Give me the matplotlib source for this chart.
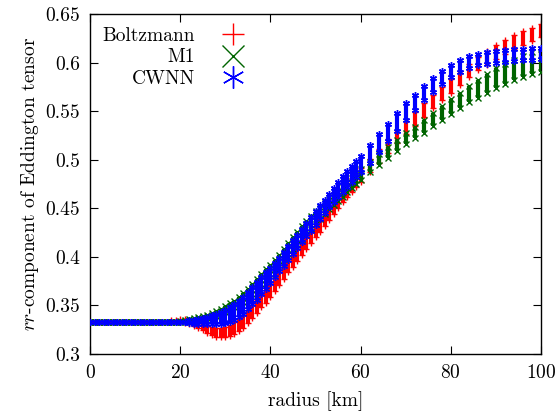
import matplotlib
matplotlib.use("Agg")
import matplotlib.pyplot as plt

plt.rcParams['font.family'] = 'cmr10'
plt.rcParams['mathtext.fontset'] = 'cm'
plt.rcParams['axes.formatter.use_mathtext'] = True

# radius grid [km], shared by all three runs
radius = [0, 1, 2, 3, 4, 5, 6, 7, 8, 9, 10, 11, 12, 13, 14, 15, 16, 17, 18, 19,
          20, 21, 22, 23, 24, 25, 26, 27, 28, 29, 30, 31, 32, 33, 34, 35, 36, 37, 38, 39,
          40, 41, 42, 43, 44, 45, 46, 47, 48, 49, 50, 51, 52, 53, 54, 55, 56, 57, 58, 59,
          60, 62, 64, 66, 68, 70, 72, 74, 76, 78, 80, 82, 84, 86, 88, 90, 92, 94, 96, 98, 100]

# Boltzmann: lower / upper edge of the spread at each radius
boltz_lo = [0.3333, 0.3333, 0.3333, 0.3333, 0.3333, 0.3333, 0.3333, 0.3333, 0.3333, 0.3333,
            0.3333, 0.3333, 0.3333, 0.3333, 0.3333, 0.3333, 0.3333, 0.3333, 0.3333, 0.3333,
            0.333, 0.332, 0.331, 0.329, 0.327, 0.325, 0.322, 0.320, 0.318, 0.317,
            0.318, 0.319, 0.321, 0.324, 0.327, 0.332, 0.337, 0.342, 0.348, 0.353,
            0.359, 0.365, 0.371, 0.377, 0.384, 0.390, 0.396, 0.402, 0.408, 0.414,
            0.420, 0.426, 0.432, 0.438, 0.444, 0.450, 0.456, 0.462, 0.467, 0.472,
            0.477, 0.487, 0.497, 0.507, 0.517, 0.526, 0.535, 0.544, 0.553, 0.561,
            0.569, 0.577, 0.585, 0.592, 0.598, 0.604, 0.609, 0.614, 0.618, 0.622, 0.626]
boltz_hi = [0.3333, 0.3333, 0.3333, 0.3333, 0.3333, 0.3333, 0.3333, 0.3333, 0.3333, 0.3333,
            0.3333, 0.3333, 0.3333, 0.3333, 0.3333, 0.3333, 0.3333, 0.3333, 0.3345, 0.3355,
            0.336, 0.336, 0.335, 0.334, 0.333, 0.332, 0.330, 0.328, 0.327, 0.327,
            0.328, 0.330, 0.333, 0.336, 0.340, 0.345, 0.350, 0.356, 0.362, 0.368,
            0.374, 0.380, 0.386, 0.392, 0.398, 0.404, 0.410, 0.416, 0.422, 0.428,
            0.434, 0.440, 0.446, 0.452, 0.458, 0.464, 0.470, 0.476, 0.481, 0.486,
            0.491, 0.501, 0.511, 0.521, 0.531, 0.540, 0.549, 0.558, 0.567, 0.575,
            0.583, 0.591, 0.599, 0.606, 0.612, 0.618, 0.623, 0.628, 0.632, 0.636, 0.640]

# M1 closure
m1_lo = [0.3333, 0.3333, 0.3333, 0.3333, 0.3333, 0.3333, 0.3333, 0.3333, 0.3333, 0.3333,
         0.3333, 0.3333, 0.3333, 0.3333, 0.3333, 0.3333, 0.3333, 0.3333, 0.3333, 0.3333,
         0.3333, 0.333, 0.334, 0.334, 0.335, 0.336, 0.337, 0.338, 0.339, 0.341,
         0.343, 0.345, 0.348, 0.351, 0.354, 0.358, 0.362, 0.367, 0.372, 0.377,
         0.382, 0.387, 0.392, 0.398, 0.403, 0.408, 0.413, 0.418, 0.423, 0.429,
         0.434, 0.439, 0.444, 0.449, 0.453, 0.458, 0.462, 0.467, 0.471, 0.475,
         0.479, 0.487, 0.495, 0.502, 0.509, 0.516, 0.522, 0.528, 0.535, 0.541,
         0.547, 0.553, 0.559, 0.564, 0.569, 0.574, 0.578, 0.582, 0.585, 0.588, 0.590]
m1_hi = [0.3333, 0.3333, 0.3333, 0.3333, 0.3333, 0.3333, 0.3333, 0.3333, 0.3333, 0.3333,
         0.3333, 0.3333, 0.3333, 0.3333, 0.3333, 0.3333, 0.3333, 0.3333, 0.3333, 0.3333,
         0.334, 0.335, 0.336, 0.337, 0.338, 0.339, 0.340, 0.342, 0.344, 0.346,
         0.349, 0.352, 0.355, 0.359, 0.363, 0.367, 0.372, 0.377, 0.382, 0.387,
         0.392, 0.397, 0.402, 0.408, 0.414, 0.420, 0.426, 0.432, 0.437, 0.442,
         0.447, 0.451, 0.455, 0.459, 0.463, 0.468, 0.472, 0.477, 0.481, 0.486,
         0.490, 0.498, 0.506, 0.513, 0.520, 0.527, 0.534, 0.541, 0.548, 0.555,
         0.562, 0.569, 0.576, 0.582, 0.588, 0.594, 0.599, 0.603, 0.607, 0.611, 0.614]

# CWNN closure
cwnn_lo = [0.3333, 0.3333, 0.3333, 0.3333, 0.3333, 0.3333, 0.3333, 0.3333, 0.3333, 0.3333,
           0.3333, 0.3333, 0.3333, 0.3333, 0.3333, 0.3333, 0.3333, 0.3333, 0.3333, 0.3333,
           0.3333, 0.3333, 0.332, 0.331, 0.331, 0.331, 0.331, 0.331, 0.331, 0.331,
           0.332, 0.333, 0.335, 0.338, 0.341, 0.346, 0.351, 0.356, 0.362, 0.367,
           0.373, 0.379, 0.385, 0.391, 0.397, 0.403, 0.409, 0.415, 0.421, 0.427,
           0.433, 0.439, 0.445, 0.451, 0.456, 0.462, 0.467, 0.472, 0.477, 0.482,
           0.487, 0.497, 0.508, 0.519, 0.530, 0.541, 0.551, 0.561, 0.570, 0.578,
           0.585, 0.590, 0.594, 0.597, 0.599, 0.600, 0.601, 0.602, 0.603, 0.603, 0.604]
cwnn_hi = [0.3333, 0.3333, 0.3333, 0.3333, 0.3333, 0.3333, 0.3333, 0.3333, 0.3333, 0.3333,
           0.3333, 0.3333, 0.3333, 0.3333, 0.3333, 0.3333, 0.3333, 0.3333, 0.3333, 0.3333,
           0.3333, 0.3333, 0.335, 0.335, 0.336, 0.337, 0.338, 0.340, 0.341, 0.343,
           0.345, 0.348, 0.351, 0.355, 0.359, 0.364, 0.369, 0.374, 0.379, 0.384,
           0.389, 0.394, 0.399, 0.405, 0.411, 0.417, 0.423, 0.429, 0.435, 0.441,
           0.447, 0.453, 0.459, 0.465, 0.471, 0.477, 0.483, 0.488, 0.494, 0.499,
           0.504, 0.515, 0.526, 0.537, 0.548, 0.558, 0.567, 0.576, 0.584, 0.591,
           0.598, 0.603, 0.607, 0.609, 0.611, 0.612, 0.613, 0.614, 0.614, 0.615, 0.615]

series = [
    ("Boltzmann", boltz_lo, boltz_hi, "#ff0000", "+"),
    ("M1", m1_lo, m1_hi, "#006400", "x"),
    ("CWNN", cwnn_lo, cwnn_hi, "#0000ff", (6, 2, 0)),
]

fig = plt.figure(figsize=(5.56, 4.18), dpi=100)
ax = fig.add_axes([0.1619, 0.1531, 0.8111, 0.8134])

for k, (name, lo, hi, col, mk) in enumerate(series):
    z = 2 + k
    ax.vlines(radius, lo, hi, colors=col, linewidth=3.0, zorder=z)
    ax.plot(radius, lo, linestyle="none", marker=mk, ms=5, mew=1.0,
            color=col, zorder=z)
    ax.plot(radius, hi, linestyle="none", marker=mk, ms=5, mew=1.0,
            color=col, zorder=z, label=name)

ax.set_xlim(0, 100)
ax.set_ylim(0.3, 0.65)
ax.set_xticks([0, 20, 40, 60, 80, 100])
ax.set_yticks([0.3, 0.35, 0.4, 0.45, 0.5, 0.55, 0.6, 0.65])
ax.set_yticklabels(["0.3", "0.35", "0.4", "0.45", "0.5", "0.55", "0.6", "0.65"])
ax.tick_params(direction="in", length=6, width=0.8, top=True, right=True,
               labelsize=14, pad=7)
for s in ax.spines.values():
    s.set_linewidth(1.0)

ax.set_xlabel("radius [km]", fontsize=14, labelpad=7)
ax.set_ylabel(r"$rr$-component of Eddington tensor", fontsize=14, labelpad=3)

leg = ax.legend(loc="upper left", bbox_to_anchor=(0.0, 1.0), frameon=False,
                markerscale=3.2, markerfirst=False, fontsize=14,
                handlelength=1.6, handletextpad=1.15, labelspacing=0.2,
                borderaxespad=0.25)

fig.savefig("out.png", dpi=100)
